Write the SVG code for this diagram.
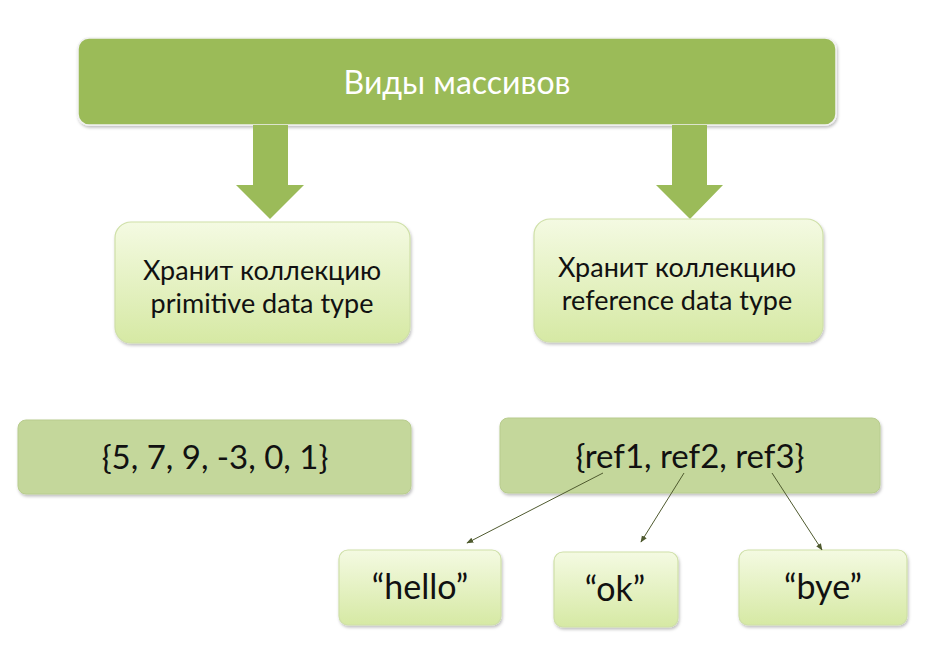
<svg xmlns="http://www.w3.org/2000/svg" width="928" height="654" viewBox="0 0 928 654">
<style>
.t{font-family:Lato,"Noto Sans","DejaVu Sans",sans-serif;text-anchor:middle;fill:#111}
.light{fill:url(#lg);stroke:#cfe0a8;stroke-width:1.2}
.mid{fill:#c4d79b;stroke:#b8cc8e;stroke-width:1}
.big{fill:#9bbb59}
.conn{stroke:#4f5a2f;stroke-width:1;fill:none;marker-end:url(#ah)}
</style>
<defs>
<linearGradient id="lg" x1="0" y1="0" x2="0" y2="1">
<stop offset="0" stop-color="#f4fae2"/>
<stop offset="1" stop-color="#d6e9a4"/>
</linearGradient>
<filter id="sh" x="-5%" y="-10%" width="110%" height="130%">
<feDropShadow dx="1" dy="2" stdDeviation="1.5" flood-color="#000" flood-opacity="0.25"/>
</filter>
<marker id="ah" viewBox="0 0 10 10" refX="9" refY="5" markerWidth="7" markerHeight="7" orient="auto" markerUnits="userSpaceOnUse">
<path d="M0,1 L10,5 L0,9 z" fill="#4f5a2f"/>
</marker>
</defs>
<g id="top">
<rect x="78" y="38" width="758" height="87" rx="11" class="big" filter="url(#sh)" stroke="#f2f2f2" stroke-width="1.5"/>
<text x="457" y="94" class="t" style="fill:#fff;font-size:32px">Виды массивов</text>
</g>
<g id="arrows">
<polygon class="big" points="253,125 288,125 288,185 304,185 270,219 236,185 253,185"/>
<polygon class="big" points="672,125 707,125 707,185 723,185 690,219 656,185 672,185"/>
</g>
<g id="prim">
<rect x="115" y="222" width="295" height="121" rx="16" class="light" filter="url(#sh)"/>
<text x="262" y="280" class="t" style="font-size:27px">Хранит коллекцию</text>
<text x="262" y="313" class="t" style="font-size:27px">primitive data type</text>
</g>
<g id="ref">
<rect x="534" y="219" width="289" height="123" rx="16" class="light" filter="url(#sh)"/>
<text x="677" y="277" class="t" style="font-size:27px">Хранит коллекцию</text>
<text x="677" y="310" class="t" style="font-size:27px">reference data type</text>
</g>
<g id="arr1">
<rect x="18" y="420" width="393" height="74" rx="8" class="mid" filter="url(#sh)"/>
<text x="215" y="469" class="t" style="font-size:33px">{5, 7, 9, -3, 0, 1}</text>
</g>
<g id="arr2">
<rect x="500" y="418" width="380" height="75" rx="8" class="mid" filter="url(#sh)"/>
<text x="690" y="468" class="t" style="font-size:33px">{ref1, ref2, ref3}</text>
</g>
<g id="hello">
<rect x="339" y="550" width="162" height="75" rx="9" class="light" filter="url(#sh)"/>
<text x="420" y="599" class="t" style="font-size:34px">“hello”</text>
</g>
<g id="ok">
<rect x="554" y="552" width="124" height="75" rx="9" class="light" filter="url(#sh)"/>
<text x="615" y="601" class="t" style="font-size:34px">“ok”</text>
</g>
<g id="bye">
<rect x="739" y="550" width="168" height="75" rx="9" class="light" filter="url(#sh)"/>
<text x="823" y="599" class="t" style="font-size:34px">“bye”</text>
</g>
<g id="connectors">
<line class="conn" x1="603" y1="473" x2="467" y2="543"/>
<line class="conn" x1="684" y1="473" x2="641" y2="542"/>
<line class="conn" x1="772" y1="473" x2="822" y2="550"/>
</g>
</svg>
